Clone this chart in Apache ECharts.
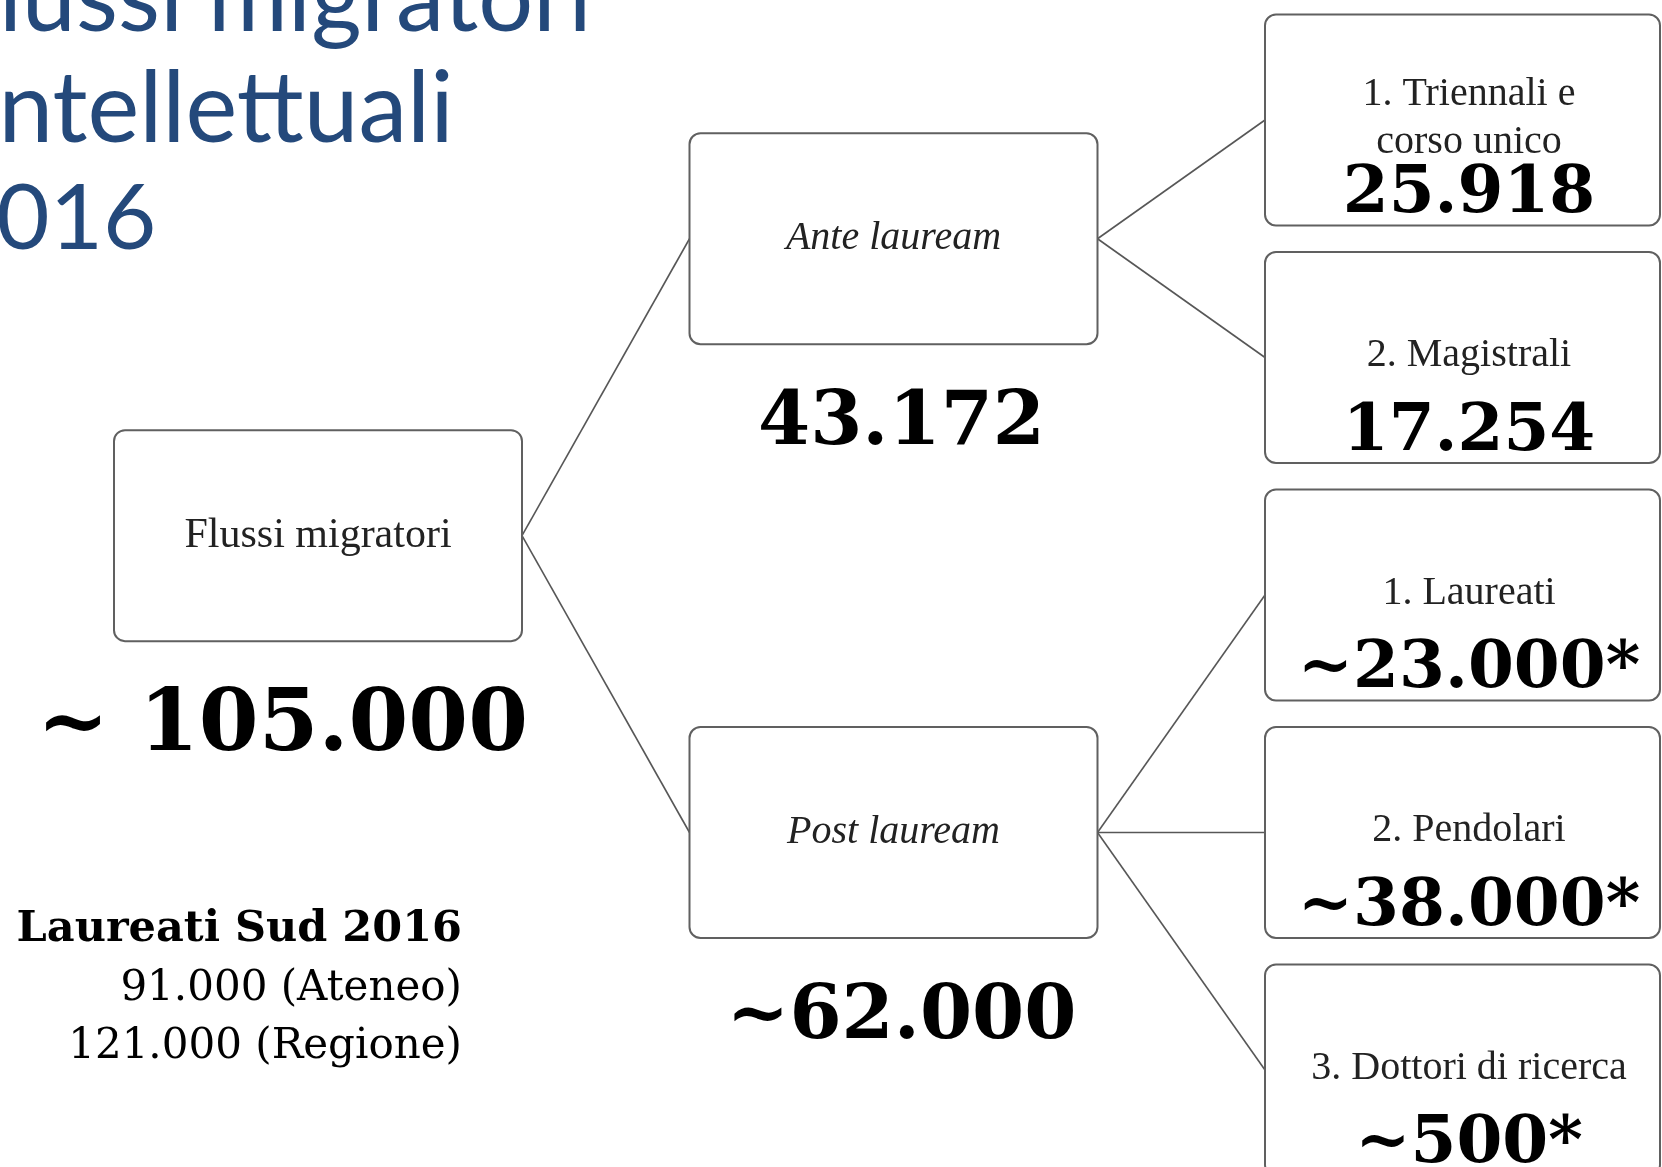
<!DOCTYPE html>
<html lang="it">
<head>
    <meta charset="UTF-8">
    <title>Flussi migratori intellettuali 2016</title>
    <style>
        html, body { margin: 0; padding: 0; background: #fff; }
    </style>
</head>
<body>
<script src="https://cdn.jsdelivr.net/npm/echarts@6/dist/echarts.min.js"></script>
<div id="main" style="width:1662px;height:1167px;"></div>

<script type="text/javascript">
    // nodi dell'albero (indice del genitore, -1 = radice)
    var nodeNames = ['Flussi migratori', 'Ante lauream', 'Post lauream',
        '1. Triennali e\ncorso unico', '2. Magistrali',
        '1. Laureati', '2. Pendolari', '3. Dottori di ricerca'];
    var nodeValues = ['~ 105.000', '43.172', '~62.000',
        '25.918', '17.254', '~23.000*', '~38.000*', '~500*'];
    var nodeParents = [-1, 0, 0, 1, 1, 2, 2, 2];

    var titleLines = ['Flussi migratori', 'intellettuali', '2016'];
    var summaryLines = ['Laureati Sud 2016', '91.000 (Ateneo)', '121.000 (Regione)'];

    var BOX_W = 408, BOX_H = 211, LEAF_W = 395;
    var SERIF = '"Liberation Serif", serif';
    var BIG = '"DejaVu Serif", serif';

    // livello e posizione verticale ricavati dalla struttura: le foglie in fila,
    // ogni genitore a metà dei suoi figli
    var level = [], slot = [], leafCount = 0;
    nodeParents.forEach(function (p, i) {
        level[i] = p < 0 ? 0 : level[p] + 1;
    });
    function place(i) {
        var kids = [];
        nodeParents.forEach(function (p, j) { if (p === i) kids.push(j); });
        if (!kids.length) {
            slot[i] = leafCount++;
        } else {
            var sum = 0;
            kids.forEach(function (k) { place(k); sum += slot[k]; });
            slot[i] = sum / kids.length;
        }
    }
    place(0);

    var nodeData = nodeNames.map(function (n, i) { return [level[i], slot[i], i]; });
    var edgeData = [];
    nodeParents.forEach(function (p, i) {
        if (p >= 0) edgeData.push([level[p], slot[p], level[i], slot[i]]);
    });

    var myChart = echarts.init(document.getElementById('main'));

    function renderEdge(params, api) {
        var a = api.coord([api.value(0), api.value(1)]);
        var b = api.coord([api.value(2), api.value(3)]);
        return {
            type: 'line',
            shape: {x1: a[0] + BOX_W / 2, y1: a[1], x2: b[0] - BOX_W / 2, y2: b[1]},
            style: {stroke: '#575757', lineWidth: 1.6}
        };
    }

    function renderNode(params, api) {
        var lv = api.value(0);
        var i = api.value(2);
        var pt = api.coord([api.value(0), api.value(1)]);
        var isLeaf = lv === 2;
        var w = isLeaf ? LEAF_W : BOX_W;

        var valueStyle = {
            text: nodeValues[i],
            fill: '#000',
            textAlign: 'center',
            textVerticalAlign: 'middle'
        };
        if (lv === 0) {
            valueStyle.x = pt[0] + BOX_W / 2 + 6;
            valueStyle.y = pt[1] + 192;
            valueStyle.textAlign = 'right';
            valueStyle.font = 'bold 86px ' + BIG;
        } else if (lv === 1) {
            valueStyle.x = pt[0] + 8;
            valueStyle.y = pt[1] + 186;
            valueStyle.font = 'bold 75px ' + BIG;
        } else {
            valueStyle.x = pt[0];
            valueStyle.y = pt[1] + 75;
            valueStyle.font = 'bold 66px ' + BIG;
        }

        return {
            type: 'group',
            children: [{
                type: 'rect',
                shape: {x: pt[0] - BOX_W / 2, y: pt[1] - BOX_H / 2, width: w, height: BOX_H, r: 11},
                style: {fill: '#fff', stroke: '#606060', lineWidth: 2}
            }, {
                type: 'text',
                style: {
                    x: pt[0],
                    y: pt[1] - (isLeaf ? 2 : 0),
                    text: nodeNames[i],
                    font: (lv === 1 ? 'italic ' : '') + (lv === 0 ? '42px ' : '40px ') + SERIF,
                    lineHeight: 48,
                    fill: '#222',
                    textAlign: 'center',
                    textVerticalAlign: 'middle'
                }
            }, {
                type: 'text',
                style: valueStyle
            }]
        };
    }

    var titleX = [-55, -25, -57];
    var titleY = [-1, 109, 221];
    var titleSize = [97, 98, 92];
    var graphics = titleLines.map(function (t, k) {
        return {
            type: 'text',
            left: titleX[k],
            top: titleY[k] - 48,
            style: {
                text: t,
                font: titleSize[k] + 'px Lato, sans-serif',
                fill: '#24497b'
            }
        };
    });
    var summaryY = [908, 968, 1026];
    summaryLines.forEach(function (t, k) {
        graphics.push({
            type: 'text',
            right: 1662 - 462,
            top: summaryY[k],
            style: {
                text: t,
                font: (k === 0 ? 'bold 43px ' : '42px ') + BIG,
                fill: '#000',
                textAlign: 'right'
            }
        });
    });

    var option = {
        backgroundColor: '#fff',
        animation: false,
        grid: {left: 318, right: 193, top: 120, bottom: 97},
        xAxis: {type: 'value', min: 0, max: 2, show: false},
        yAxis: {type: 'value', min: 0, max: 4, inverse: true, show: false},
        graphic: graphics,
        series: [{
            type: 'custom',
            z: 1,
            renderItem: renderEdge,
            encode: {x: [0, 2], y: [1, 3]},
            data: edgeData,
            silent: true
        }, {
            type: 'custom',
            z: 2,
            renderItem: renderNode,
            encode: {x: 0, y: 1},
            data: nodeData,
            silent: true
        }]
    };
    myChart.setOption(option);
</script>
</body>
</html>
